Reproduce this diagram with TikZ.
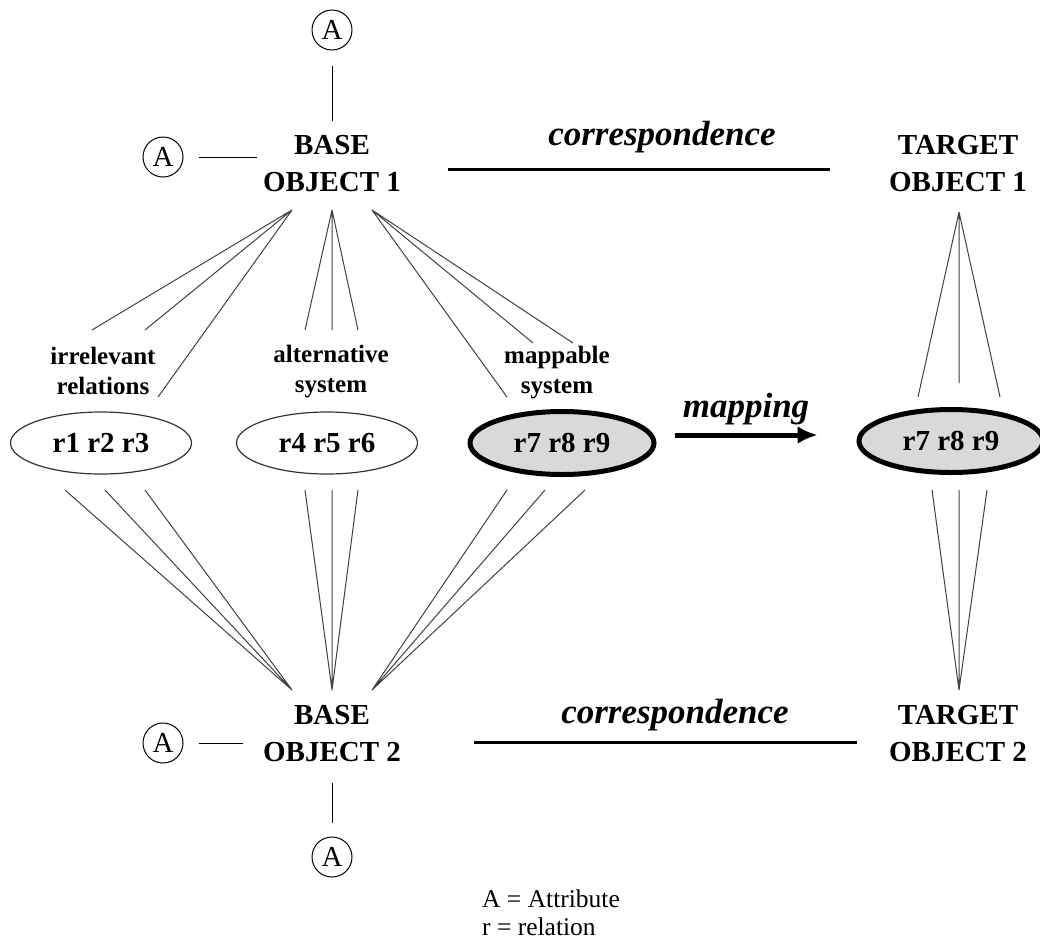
\documentclass[tikz,border=0pt]{standalone}
\usepackage{fontspec}
\setmainfont{Liberation Serif}
\usetikzlibrary{shapes.geometric,arrows.meta}

\begin{document}
\begin{tikzpicture}[x=1pt,y=-1pt,
  object/.style={align=center, inner sep=3pt, font=\fontsize{29}{37}\selectfont\bfseries},
  attr/.style={circle, draw, line width=1pt, minimum size=40pt, inner sep=0pt, font=\fontsize{29}{29}\selectfont},
  attrline/.style={line width=1pt},
  fan/.style={line width=1pt, black!75},
  sysname/.style={align=center, font=\fontsize{25}{30}\selectfont\bfseries},
  rel/.style={ellipse, draw=black!80, line width=1.2pt, minimum width=181pt, minimum height=62pt, font=\fontsize{29}{29}\selectfont\bfseries},
  mapped/.style={rel, draw=black, line width=5pt, fill=black!15, minimum width=184pt, minimum height=63pt},
  corr/.style={anchor=base, font=\fontsize{35}{35}\selectfont\bfseries\itshape},
  corrline/.style={line width=3pt}]

\useasboundingbox (0,0) rectangle (1040,940);

% Objects and their attributes
\node[object] (base1) at (332,164) {BASE\\OBJECT 1};
\node[object] (target1) at (958,164) {TARGET\\OBJECT 1};
\node[object] (base2) at (332,734) {BASE\\OBJECT 2};
\node[object] (target2) at (958,734) {TARGET\\OBJECT 2};

\node[attr] (attrTop) at (332,30) {A};
\node[attr] (attrLeft1) at (163,157) {A};
\node[attr] (attrLeft2) at (163,743) {A};
\node[attr] (attrBot) at (332,857) {A};

\draw[attrline, shorten <=15pt, shorten >=12pt] (attrTop) -- (base1);
\draw[attrline, shorten <=15pt, shorten >=3pt] (attrLeft1.east) -- (attrLeft1.east -| base1.west);
\draw[attrline, shorten <=15pt, shorten >=17pt] (attrLeft2.east) -- (attrLeft2.east -| base2.west);
\draw[attrline, shorten <=14pt, shorten >=18pt] (attrBot) -- (base2);

% Relations
\node[rel] (rel1) at (101,443) {r1 r2 r3};
\node[rel] (rel2) at (327,443) {r4 r5 r6};
\node[mapped] (rel3) at (562,443) {r7 r8 r9};
\node[mapped] (rel4) at (951,441) {r7 r8 r9};

\node[sysname] (irrel) at (103,371) {irrelevant\\relations};
\node[sysname] (alter) at (331,372) {alternative\\system};
\node[sysname] (mappa) at (557,373) {mappable\\system};

% Correspondences and the mapping
\node[corr] (corrTop) at (662,145) {correspondence};
\node[corr] (corrBot) at (675,723) {correspondence};
\draw[corrline, shorten <=44pt, shorten >=56pt] ([yshift=-5pt]base1.east) -- ([yshift=-5pt]target1.west);
\draw[corrline, shorten <=70pt, shorten >=29pt] ([yshift=-8pt]base2.east) -- ([yshift=-8pt]target2.west);

\node[corr] (mapLabel) at (746,417) {mapping};
\draw[line width=5pt, ->, >={Latex[length=20pt,width=18pt]}, shorten <=18pt, shorten >=39pt]
  ([yshift=8pt]rel3.east) -- ([yshift=8pt]rel3.east -| rel4.west);

% Fan of relation lines, base side
\coordinate (top1L) at (292,210);
\coordinate (top1M) at (332,210);
\coordinate (top1R) at (372,210);
\coordinate (bot2L) at (292,690);
\coordinate (bot2M) at (332,690);
\coordinate (bot2R) at (372,690);

\draw[fan] (top1L) -- (92,330) (top1L) -- (145,330) (top1L) -- (158,397);
\draw[fan] (top1M) -- (305,330) (top1M) -- (332,330) (top1M) -- (358,330);
\draw[fan] (top1R) -- (507,397) (top1R) -- (533,343) (top1R) -- (573,343);

\draw[fan] (bot2L) -- (65,490) (bot2L) -- (105,490) (bot2L) -- (145,490);
\draw[fan] (bot2M) -- (305,490) (bot2M) -- (332,490) (bot2M) -- (358,490);
\draw[fan] (bot2R) -- (507,490) (bot2R) -- (545,490) (bot2R) -- (585,490);

% Fan of relation lines, target side
\coordinate (topT) at (959,212);
\coordinate (botT) at (959,690);
\draw[fan] (topT) -- (918,397) (topT) -- (959,383) (topT) -- (1000,397);
\draw[fan] (botT) -- (932,490) (botT) -- (959,490) (botT) -- (987,490);

% Legend
\node[align=left, anchor=north west, inner sep=0pt, font=\fontsize{25.5}{28}\selectfont] (legend) at (482,890) {A = Attribute\\r = relation};

\end{tikzpicture}
\end{document}
